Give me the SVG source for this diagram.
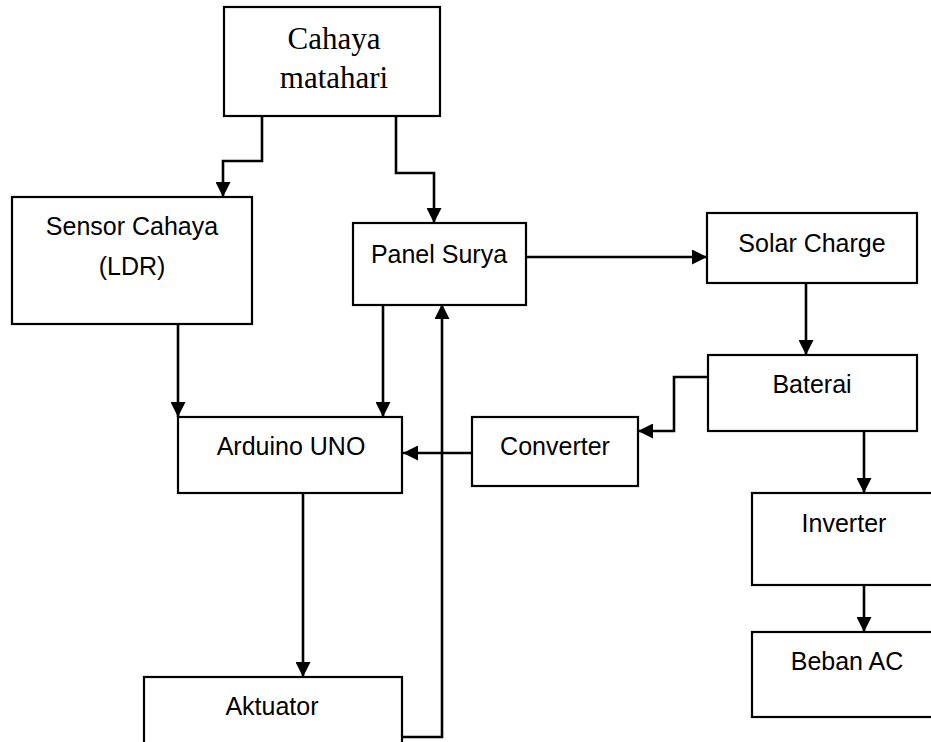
<svg xmlns="http://www.w3.org/2000/svg" width="931" height="742" viewBox="0 0 931 742">
<style>
.box{fill:#fff;stroke:#000;stroke-width:2.2}
.t{font-family:"Liberation Sans",Arial,sans-serif;font-size:25px;fill:#000;text-anchor:middle}
.ts{font-family:"Liberation Serif","Times New Roman",serif;font-size:31px;fill:#000;text-anchor:middle}
.c{fill:none;stroke:#000;stroke-width:2.6;marker-end:url(#ah)}
</style>
<defs>
<marker id="ah" viewBox="0 0 10 10" refX="10" refY="5" markerWidth="15" markerHeight="15" markerUnits="userSpaceOnUse" orient="auto">
<path d="M0,0 L10,5 L0,10 z" fill="#000"/>
</marker>
</defs>
<rect width="931" height="742" fill="#fff"/>
<g id="connectors">
<path class="c" d="M262,116 V161 H223 V197"/>
<path class="c" d="M396,116 V173 H434 V223"/>
<path class="c" d="M178,324 V417"/>
<path class="c" d="M383,305 V417"/>
<path class="c" d="M526,257 H707"/>
<path class="c" d="M806,283 V355"/>
<path class="c" d="M708,377 H674 V431 H638"/>
<path class="c" d="M472,453 H403"/>
<path class="c" d="M864,431 V493"/>
<path class="c" d="M864,585 V632"/>
<path class="c" d="M303,493 V677"/>
<path class="c" d="M402,737 H442 V304"/>
</g>
<g id="cahaya-matahari"><rect class="box" x="224" y="7" width="216" height="109"/><text class="ts" x="334" y="49">Cahaya</text><text class="ts" x="334" y="88">matahari</text></g>
<g id="sensor-cahaya"><rect class="box" x="12" y="197" width="240" height="127"/><text class="t" x="132" y="235">Sensor Cahaya</text><text class="t" x="132" y="275">(LDR)</text></g>
<g id="panel-surya"><rect class="box" x="353" y="223" width="173" height="82"/><text class="t" x="439" y="263">Panel Surya</text></g>
<g id="solar-charge"><rect class="box" x="707" y="213" width="210" height="70"/><text class="t" x="812" y="252">Solar Charge</text></g>
<g id="baterai"><rect class="box" x="708" y="355" width="209" height="76"/><text class="t" x="812" y="393">Baterai</text></g>
<g id="converter"><rect class="box" x="472" y="417" width="166" height="69"/><text class="t" x="555" y="455">Converter</text></g>
<g id="arduino-uno"><rect class="box" x="178" y="417" width="224" height="76"/><text class="t" x="291" y="455">Arduino UNO</text></g>
<g id="inverter"><rect class="box" x="752" y="493" width="190" height="92"/><text class="t" x="844" y="532">Inverter</text></g>
<g id="beban-ac"><rect class="box" x="752" y="632" width="190" height="85"/><text class="t" x="847" y="670">Beban AC</text></g>
<g id="aktuator"><rect class="box" x="144" y="677" width="258" height="80"/><text class="t" x="272" y="715">Aktuator</text></g>
</svg>
